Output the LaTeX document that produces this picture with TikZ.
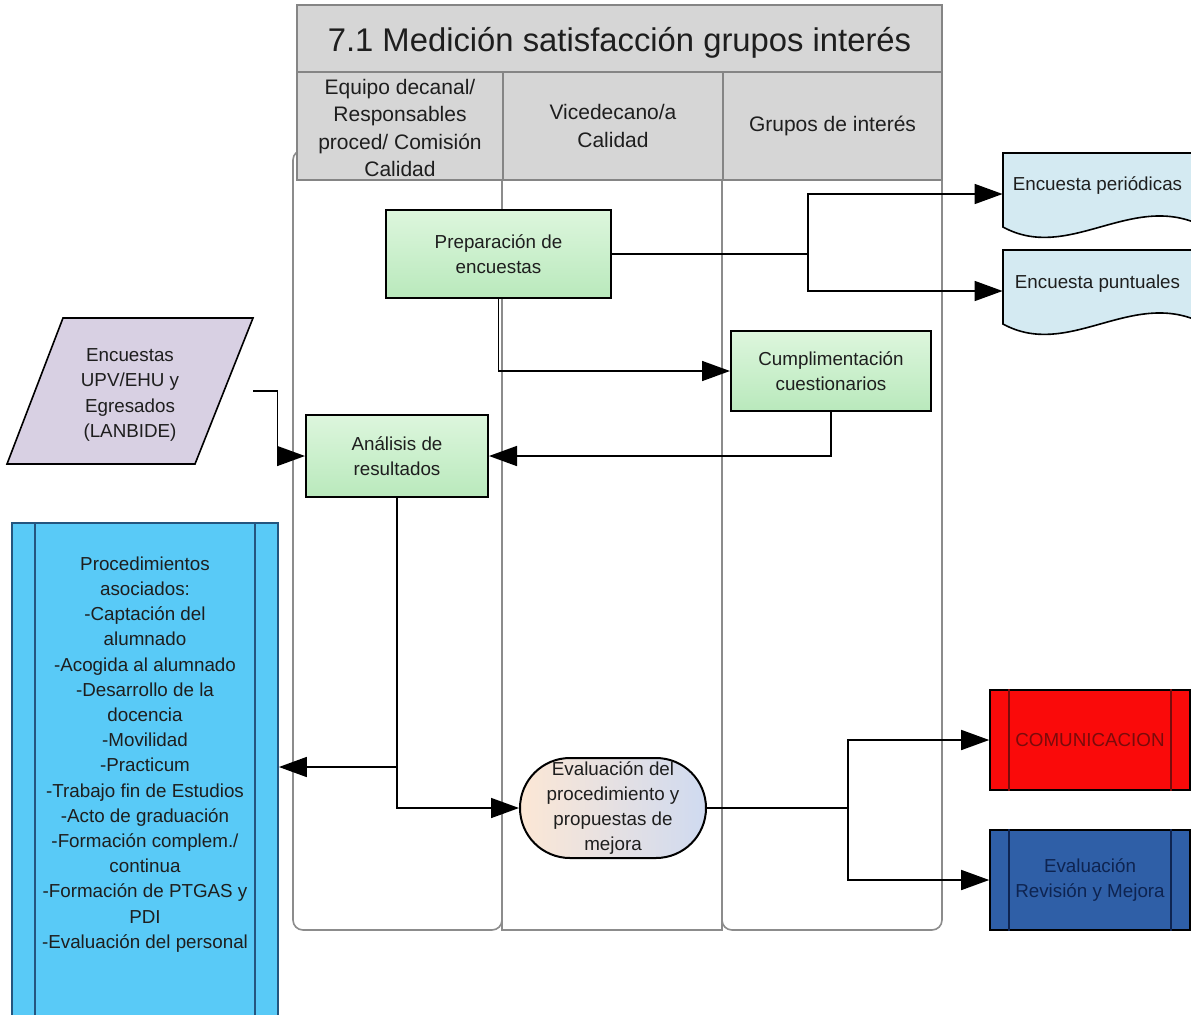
\documentclass[tikz,border=0pt]{standalone}
\usepackage{fontspec}
\setmainfont{Liberation Sans}
\usetikzlibrary{arrows.meta,calc}
\definecolor{lanegray}{HTML}{8C8C8C}
\definecolor{hdrfill}{HTML}{D6D6D6}
\definecolor{hdrline}{HTML}{858585}
\definecolor{txtdark}{HTML}{1E1E1E}
\definecolor{greentop}{HTML}{DDF6DD}
\definecolor{greenbot}{HTML}{B9E9BC}
\definecolor{docfill}{HTML}{D4EAF2}
\definecolor{parafill}{HTML}{D8D0E3}
\definecolor{procfill}{HTML}{59CAF7}
\definecolor{procline}{HTML}{24557F}
\definecolor{commred}{HTML}{FA0A0A}
\definecolor{commtext}{HTML}{7A0B0B}
\definecolor{evblue}{HTML}{2F5FA7}
\definecolor{evtext}{HTML}{0E2451}
\definecolor{peach}{HTML}{FCE7D5}
\definecolor{paleblue}{HTML}{CFDAF0}
\begin{document}
\begin{tikzpicture}[x=0.5pt,y=-0.5pt,
  lane/.style={draw=lanegray, line width=0.8pt},
  hdr/.style={draw=hdrline, fill=hdrfill, line width=1pt, inner sep=0pt, align=center,
    font=\fontsize{10.5}{13.75}\selectfont, text=txtdark},
  txt/.style={font=\fontsize{9.4}{12.6}\selectfont, text=txtdark, align=center, inner sep=0pt},
  greenbox/.style={txt, draw=black, line width=1pt, top color=greentop, bottom color=greenbot},
  conn/.style={draw=black, line width=0.8pt},
  arr/.style={conn, -{Triangle[length=14pt,width=10pt]}},
  sidebox/.style={txt, draw=black, line width=0.8pt, minimum width=100pt, minimum height=50pt}
]
\clip (0,0) rectangle (1191,1014);
\fill[white] (0,0) rectangle (1191,1014);

% swimlanes
\draw[lane, rounded corners=5pt] (293,150) rectangle (502,930);
\draw[lane] (502,150) rectangle (722,930);
\draw[lane, rounded corners=5pt] (722,150) rectangle (942,930);

% title and lane headers
\node[hdr, minimum width=322.5pt, minimum height=33.5pt] (title) at (619.5,38.5) {};
\node[text=txtdark, font=\fontsize{16.4}{20}\selectfont, inner sep=0pt]
      at ($(title.center)+(0,4)$) {7.1 Medición satisfacción grupos interés};
\node[hdr, minimum width=103pt, minimum height=54pt] (h1) at (400,126) {};
\node[hdr, draw=none, fill=none] at ($(h1.center)+(0,2)$)
      {Equipo decanal/\\Responsables\\proced/ Comisión\\Calidad};
\node[hdr, minimum width=110pt, minimum height=54pt] (h2) at (613,126)
      {Vicedecano/a\\Calidad};
\node[hdr, minimum width=109.5pt, minimum height=54pt] (h3) at (832.5,126)
      {Grupos de interés};

% process steps
\node[greenbox, minimum width=112.5pt, minimum height=44pt] (prep) at (498.5,254)
      {Preparación de\\encuestas};
\node[greenbox, minimum width=100pt, minimum height=40pt] (cump) at (831,371)
      {Cumplimentación\\cuestionarios};
\node[greenbox, minimum width=91pt, minimum height=41pt] (anal) at (397,456)
      {Análisis de\\resultados};
\node[txt, draw=black, line width=1pt, rounded corners=25pt, left color=peach, right color=paleblue,
      minimum width=93pt, minimum height=50pt] (eval) at (613,808)
      {Evaluación del\\procedimiento y\\propuestas de\\mejora};

% survey documents
\path[fill=docfill, draw=black, line width=0.8pt]
  (1003,153) -- (1196,153) -- (1196,223)
  .. controls (1128,195) and (1067,262) .. (1003,227) -- cycle;
\node[minimum width=94.5pt, minimum height=41pt, inner sep=0pt] (per) at (1097.5,194) {};
\node[txt] at ($(per.center)+(0,-8)$) {Encuesta periódicas};
\path[fill=docfill, draw=black, line width=0.8pt]
  (1003,250) -- (1196,250) -- (1196,320)
  .. controls (1128,292) and (1067,359) .. (1003,324) -- cycle;
\node[minimum width=94.5pt, minimum height=41pt, inner sep=0pt] (pun) at (1097.5,291) {};
\node[txt] at ($(pun.center)+(0,-7)$) {Encuesta puntuales};

% external input
\path[fill=parafill, draw=black, line width=0.8pt]
  (63,318) -- (253,318) -- (195,464) -- (7,464) -- cycle;
\node[minimum width=123pt, minimum height=73pt, inner sep=0pt] (para) at (130,391) {};
\node[txt] at ($(para.center)+(0,4)$) {Encuestas\\UPV/EHU y\\Egresados\\(LANBIDE)};

% associated procedures
\node[draw=procline, fill=procfill, line width=0.9pt, minimum width=133pt,
      minimum height=246.5pt, inner sep=0pt] (proc) at (145,769.5) {};
\draw[procline, line width=0.9pt] ($(proc.north west)+(24,0)$) -- ($(proc.south west)+(24,0)$);
\draw[procline, line width=0.9pt] ($(proc.north east)+(-24,0)$) -- ($(proc.south east)+(-24,0)$);
\node[txt] at ($(proc.center)+(0,-15)$)
      {Procedimientos\\asociados:\\-Captación del\\alumnado\\-Acogida al alumnado\\-Desarrollo de la\\docencia\\-Movilidad\\-Practicum\\-Trabajo fin de Estudios\\-Acto de graduación\\-Formación complem./\\continua\\-Formación de PTGAS y\\PDI\\-Evaluación del personal};

% outputs
\node[sidebox, fill=commred, text=commtext] (comm) at (1090,740) {COMUNICACION};
\draw[commtext, line width=0.8pt] ($(comm.north west)+(20,0)$) -- ($(comm.south west)+(20,0)$);
\draw[commtext, line width=0.8pt] ($(comm.north east)+(-20,0)$) -- ($(comm.south east)+(-20,0)$);
\node[sidebox, fill=evblue, text=evtext] (evrm) at (1090,880) {Evaluación\\Revisión y Mejora};
\draw[evtext, line width=0.8pt] ($(evrm.north west)+(20,0)$) -- ($(evrm.south west)+(20,0)$);
\draw[evtext, line width=0.8pt] ($(evrm.north east)+(-20,0)$) -- ($(evrm.south east)+(-20,0)$);

% connectors
\coordinate (fork1) at (808,254);
\draw[conn] (prep.east) -- (fork1);
\draw[arr] (fork1) |- (per.west);
\draw[arr] (fork1) |- (pun.west);
\draw[arr] (prep.south) |- (cump.west);
\draw[arr] (cump.south) |- (anal.east);
\draw[arr] (para.east) -- ++(24,0) |- (anal.west);
\draw[arr] (anal.south) |- (eval.west);
\coordinate (tap) at (anal.south |- 0,767);
\draw[arr] (tap) -- (proc.east |- tap);
\coordinate (fork2) at (848,808);
\draw[conn] (eval.east) -- (fork2);
\draw[arr] (fork2) |- (comm.west);
\draw[arr] (fork2) |- (evrm.west);
\end{tikzpicture}
\end{document}
